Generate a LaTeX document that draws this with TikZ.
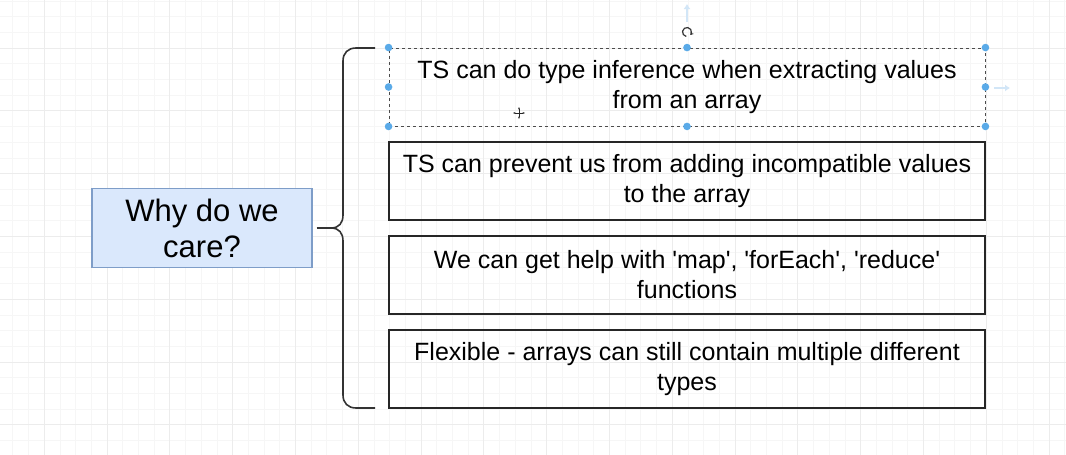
\documentclass[tikz,border=0pt]{standalone}
\usepackage{fontspec}
\setmainfont{Liberation Sans}
\usetikzlibrary{arrows.meta}
\definecolor{gridminor}{HTML}{F6F6F6}
\definecolor{gridmajor}{HTML}{ECECEC}
\definecolor{whyfill}{HTML}{DAE8FC}
\definecolor{whyline}{HTML}{7E9DC8}
\definecolor{selblue}{HTML}{5AAAE8}
\definecolor{hintblue}{HTML}{D2E6F7}
\newcommand{\q}{\textquotesingle}
\tikzset{
  reason/.style={draw=black!85, line width=1.4pt, minimum width=596pt,
    minimum height=78pt, inner sep=0pt, align=center,
    font=\fontsize{25}{30}\selectfont},
  question/.style={draw=whyline, fill=whyfill, line width=1.2pt,
    minimum width=220pt, minimum height=79pt, inner sep=0pt, align=center,
    font=\fontsize{31}{36}\selectfont},
  bracket/.style={draw=black!80, line width=1.6pt},
  handle/.style={fill=selblue, draw=none},
}
\begin{document}
\begin{tikzpicture}[x=1pt, y=-1pt]
  \useasboundingbox (0,0) rectangle (1066,455);
  \fill[white] (0,0) rectangle (1066,455);
  % grille de fond
  \foreach \i in {-6,...,61}
    \draw[gridminor, line width=0.8pt] (107+\i*15.7,0) -- (107+\i*15.7,455);
  \foreach \i in {-3,...,26}
    \draw[gridminor, line width=0.8pt] (0,48+\i*15.7) -- (1066,48+\i*15.7);
  \foreach \i in {-1,...,15}
    \draw[gridmajor, line width=0.8pt] (107+\i*62.8,0) -- (107+\i*62.8,455);
  \foreach \i in {-1,...,6}
    \draw[gridmajor, line width=0.8pt] (0,48+\i*62.8) -- (1066,48+\i*62.8);

  % question
  \node[question] (why) at (202,228) {Why do we\\care?};

  % accolade
  \coordinate (tip) at (331,228);
  \draw[bracket] (375,48) -- (356,48) .. controls (348,48) and (343,53) .. (343,61)
    -- (343,215) .. controls (343,223) and (339,228) .. (tip)
    .. controls (339,228) and (343,233) .. (343,241)
    -- (343,395) .. controls (343,403) and (348,408) .. (356,408) -- (375,408);
  \draw[bracket] (why.east) ++(4,0) -- (tip);

  % raisons
  \node[reason, draw=black!70, line width=0.9pt, dashed] (inference) at (687,87)
    {TS can do type inference when extracting values\\from an array};
  \node[reason] (prevent) at (687,181)
    {TS can prevent us from adding incompatible values\\to the array};
  \node[reason] (helpers) at (687,275)
    {We can get help with \q map\q, \q forEach\q, \q reduce\q\\functions};
  \node[reason] (flexible) at (687,369)
    {Flexible - arrays can still contain multiple different\\types};

  % poignées de sélection
  \foreach \p in {north west, north, north east, west, east, south west, south, south east}
    \fill[handle] (inference.\p) circle (3.8pt);
  \draw[hintblue, line width=2pt, -{Latex[length=5pt,width=7pt]}] (687,22) -- (687,4);
  \draw[hintblue, line width=2pt, -{Latex[length=5pt,width=7pt]}] (994,88) -- (1010,88);
  \draw[black!80, line width=1.2pt, -{Stealth[length=3pt,width=4pt]}]
    (687,32) ++(100:4.5) arc[start angle=100, end angle=400, radius=4.5];
  % curseur
  \draw[black!85, line width=0.9pt, {Stealth[length=2.5pt]}-{Stealth[length=2.5pt]}] (513,113) -- (525,113);
  \draw[black!85, line width=0.9pt, {Stealth[length=2.5pt]}-{Stealth[length=2.5pt]}] (519,107) -- (519,119);
\end{tikzpicture}
\end{document}
